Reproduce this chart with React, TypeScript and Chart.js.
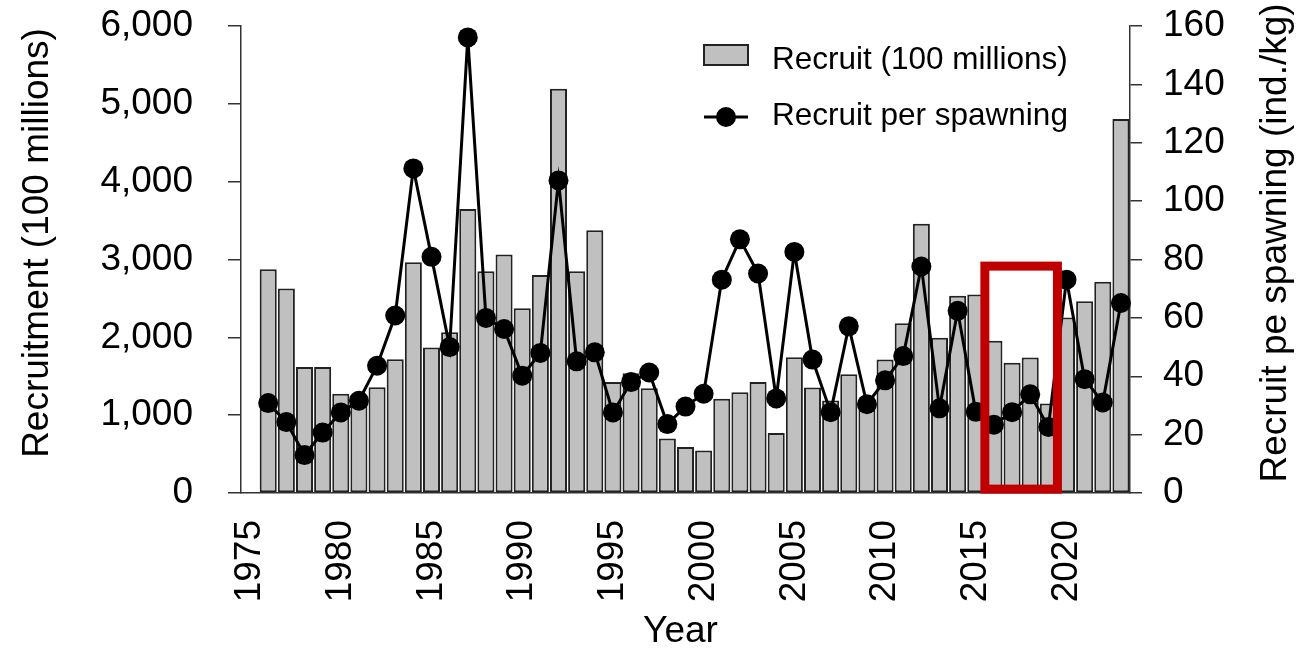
import React, { useEffect, useRef } from 'react';
import { Chart, registerables } from 'chart.js';

Chart.register(...registerables);

// ---- data ----
const years = [
  '1975', '1976', '1977', '1978', '1979', '1980', '1981', '1982', '1983', '1984',
  '1985', '1986', '1987', '1988', '1989', '1990', '1991', '1992', '1993', '1994',
  '1995', '1996', '1997', '1998', '1999', '2000', '2001', '2002', '2003', '2004',
  '2005', '2006', '2007', '2008', '2009', '2010', '2011', '2012', '2013', '2014',
  '2015', '2016', '2017', '2018', '2019', '2020', '2021', '2022', '2023',
];

// Recruit (100 millions)
const recruit = [
  null, 2875, 2628, 1620, 1620, 1275, 1260, 1360, 1720, 2965,
  1870, 2065, 3650, 2850, 3065, 2375, 2800, 5195, 2850, 3375,
  1425, 1540, 1345, 700, 590, 545, 1210, 1295, 1425, 770,
  1745, 1355, 1190, 1525, 1150, 1716, 2180, 3460, 1995, 2535,
  2550, 1955, 1675, 1740, 1150, 2255, 2465, 2715, 4805,
];

// Recruit per spawning (ind./kg)
const recruitPerSpawning = [
  null, 30.8, 24.3, 13.0, 20.7, 27.6, 31.6, 43.6, 60.8, 111.2,
  80.9, 50.0, 156.1, 60.0, 56.2, 40.2, 48.0, 107.1, 45.1, 48.2,
  27.6, 38.0, 41.3, 23.6, 29.6, 34.0, 73.1, 86.9, 75.2, 32.4,
  82.6, 45.7, 27.7, 57.1, 30.4, 38.6, 46.9, 77.6, 29.0, 62.4,
  27.8, 23.4, 27.7, 33.8, 22.6, 73.1, 39.0, 31.0, 65.1,
];

const leftTicks = [0, 1000, 2000, 3000, 4000, 5000, 6000];
const rightTicks = [0, 20, 40, 60, 80, 100, 120, 140, 160];
const xTickLabels = ['1975', '1980', '1985', '1990', '1995', '2000', '2005', '2010', '2015', '2020'];

const highlightFrom = '2016';
const highlightTo = '2019';
const highlightTop = 2915; // left-axis units
const highlightBottom = 50;

const barLabel = 'Recruit (100 millions)';
const lineLabel = 'Recruit per spawning';
const leftTitle = 'Recruitment (100 millions)';
const rightTitle = 'Recruit pe spawning (ind./kg)';
const xTitle = 'Year';

// ---- styling ----
const FONT = '"Liberation Sans", Arial, sans-serif';
const BAR_FILL = '#c0c0c0';
const BAR_EDGE = '#222222';
const AXIS = '#333333';
const RED = '#c00000';

const overlayPlugin = {
  id: 'overlay',
  afterDatasetsDraw(chart: any) {
    const ctx = chart.ctx;
    const xs = chart.scales.x;
    const ys = chart.scales.y;
    const i0 = years.indexOf(highlightFrom);
    const i1 = years.indexOf(highlightTo);
    const half = (xs.getPixelForValue(1) - xs.getPixelForValue(0)) / 2;
    const x0 = xs.getPixelForValue(i0) - half;
    const x1 = xs.getPixelForValue(i1) + half;
    const y0 = ys.getPixelForValue(highlightTop);
    const y1 = ys.getPixelForValue(highlightBottom);
    ctx.save();
    ctx.strokeStyle = RED;
    ctx.lineWidth = 9;
    ctx.strokeRect(x0, y0, x1 - x0, y1 - y0);
    ctx.restore();
  },
  afterDraw(chart: any) {
    const ctx = chart.ctx;
    const area = chart.chartArea;
    ctx.save();
    ctx.fillStyle = '#000';
    ctx.textBaseline = 'middle';
    ctx.textAlign = 'center';
    ctx.font = `37px ${FONT}`;
    // left title
    ctx.save();
    ctx.translate(38, 243);
    ctx.rotate(-Math.PI / 2);
    ctx.fillText(leftTitle, 0, 0);
    ctx.restore();
    // right title
    ctx.save();
    ctx.translate(1276, 243);
    ctx.rotate(-Math.PI / 2);
    ctx.fillText(rightTitle, 0, 0);
    ctx.restore();
    // x title
    ctx.fillText(xTitle, (area.left + area.right) / 2 - 5, 632);

    // legend
    const lx = 704;
    ctx.fillStyle = BAR_FILL;
    ctx.fillRect(lx, 45, 44, 20);
    ctx.strokeStyle = BAR_EDGE;
    ctx.lineWidth = 2;
    ctx.strokeRect(lx, 45, 44, 20);
    ctx.beginPath();
    ctx.moveTo(lx, 117);
    ctx.lineTo(lx + 44, 117);
    ctx.lineWidth = 3;
    ctx.strokeStyle = '#000';
    ctx.stroke();
    ctx.beginPath();
    ctx.arc(lx + 22, 117, 10, 0, Math.PI * 2);
    ctx.fillStyle = '#000';
    ctx.fill();
    ctx.font = `31.5px ${FONT}`;
    ctx.textAlign = 'left';
    ctx.fillText(barLabel, 772, 60);
    ctx.fillText(lineLabel, 772, 116);
    ctx.restore();
  },
};

export default function App() {
  const ref = useRef<HTMLCanvasElement | null>(null);

  useEffect(() => {
    if (!ref.current) return;
    const chart = new Chart(ref.current, {
      type: 'bar',
      data: {
        labels: years,
        datasets: [
          {
            type: 'line',
            label: lineLabel,
            data: recruitPerSpawning as any,
            yAxisID: 'y1',
            borderColor: '#000',
            backgroundColor: '#000',
            borderWidth: 3,
            pointRadius: 10,
            pointBackgroundColor: '#000',
            pointBorderColor: '#000',
            pointBorderWidth: 0,
            tension: 0,
            order: 0,
          } as any,
          {
            type: 'bar',
            label: barLabel,
            data: recruit as any,
            yAxisID: 'y',
            backgroundColor: BAR_FILL,
            borderColor: BAR_EDGE,
            borderWidth: 2,
            borderSkipped: false,
            barPercentage: 0.94,
            categoryPercentage: 1,
            order: 1,
          } as any,
        ],
      },
      options: {
        responsive: false,
        animation: false,
        layout: { padding: { top: 26, left: 0, right: 0, bottom: 0 } },
        plugins: {
          legend: { display: false },
          tooltip: { enabled: false },
        },
        scales: {
          x: {
            type: 'category',
            offset: true,
            grid: { display: false, drawTicks: false },
            border: { display: true, color: AXIS, width: 1.5 },
            ticks: {
              autoSkip: false,
              minRotation: 90,
              maxRotation: 90,
              padding: 27,
              color: '#000',
              font: { family: FONT, size: 37 },
              callback: (_v: any, i: number) => (xTickLabels.includes(years[i]) ? years[i] : ''),
            },
            afterFit: (s: any) => {
              s.height = 161;
              s.paddingLeft = 0;
              s.paddingRight = 0;
            },
          },
          y: {
            type: 'linear',
            position: 'left',
            min: 0,
            max: 6000,
            grid: { drawOnChartArea: false, drawTicks: true, tickLength: 13, color: AXIS, lineWidth: 1.5 },
            border: { display: true, color: AXIS, width: 1.5 },
            ticks: {
              padding: 35,
              color: '#000',
              font: { family: FONT, size: 37 },
              callback: (v: any) => Number(v).toLocaleString('en-US'),
            },
            afterBuildTicks: (s: any) => {
              s.ticks = leftTicks.map((v) => ({ value: v }));
            },
            afterFit: (s: any) => {
              s.width = 241;
              s.paddingTop = 0;
              s.paddingBottom = 0;
            },
          },
          y1: {
            type: 'linear',
            position: 'right',
            min: 0,
            max: 160,
            grid: { drawOnChartArea: false, drawTicks: true, tickLength: 12, color: AXIS, lineWidth: 1.5 },
            border: { display: true, color: AXIS, width: 1.5 },
            ticks: {
              padding: 21,
              color: '#000',
              font: { family: FONT, size: 37 },
            },
            afterBuildTicks: (s: any) => {
              s.ticks = rightTicks.map((v) => ({ value: v }));
            },
            afterFit: (s: any) => {
              s.width = 186;
              s.paddingTop = 0;
              s.paddingBottom = 0;
            },
          },
        },
      },
      plugins: [overlayPlugin],
    });
    return () => chart.destroy();
  }, []);

  return (
    <div style={{ position: 'fixed', left: 0, top: 0, width: 1316, height: 654, background: '#fff' }}>
      <canvas ref={ref} width={1316} height={654} style={{ display: 'block' }} />
    </div>
  );
}
